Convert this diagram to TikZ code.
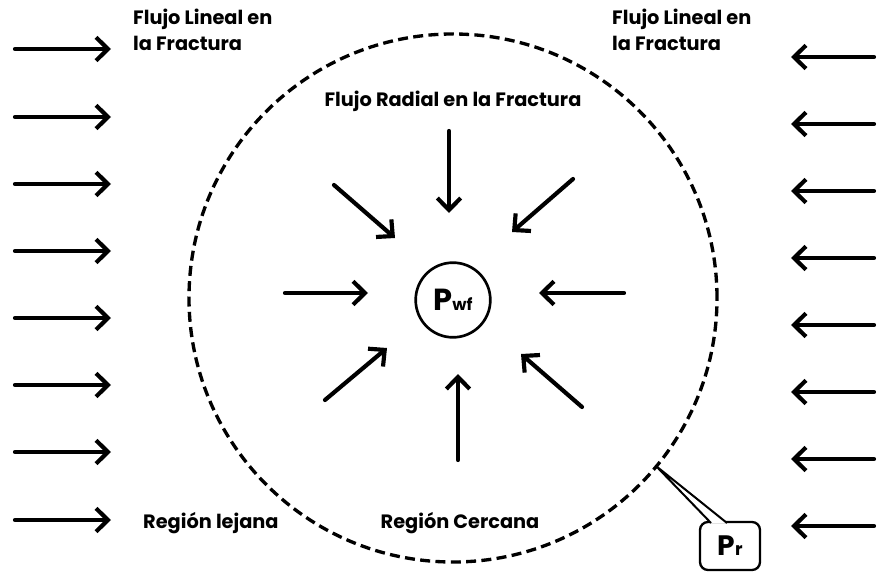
\documentclass[tikz,border=0pt]{standalone}
\usepackage{fontspec}
\setsansfont{Poppins}
\usetikzlibrary{arrows.meta}
\tikzset{
  flowfig/.style={x=0.3mm,y=-0.3mm,>={Straight Barb[length=3.6mm,width=7mm]},
    every node/.style={font=\sffamily\bfseries\fontsize{16.5}{22}\selectfont,align=left}},
  flow/.style={->,line width=1.25mm,line cap=round,line join=round},
  zone/.style={line width=1mm,dash pattern=on 3mm off 1.6mm},
  wellnode/.style={draw,circle,line width=0.8mm,minimum size=22.4mm,inner sep=0pt},
  prnode/.style={draw,rounded corners=2.4mm,line width=0.7mm,minimum width=18mm,
    minimum height=14.4mm,fill=white},
  note/.style={inner sep=0pt},
}

\begin{document}
\begin{tikzpicture}[flowfig]
    \useasboundingbox (0,0) rectangle (878,572);

    % zona de drenaje
    \coordinate (centre) at (453,298);
    \draw[zone] (centre) circle[radius=79.2mm];

    % flujo lineal
    \foreach \y [count=\i] in {49,117,184,251,318,385,452,520} {
      \coordinate (lin\i) at (15,\y);
      \coordinate (lout\i) at (111,\y);
      \draw[flow] (lin\i) -- (lout\i);
    }
    \foreach \y [count=\i] in {57,124,191,258,325,392,459,526} {
      \coordinate (rin\i) at (874,\y);
      \coordinate (rout\i) at (791,\y);
      \draw[flow] (rin\i) -- (rout\i);
    }

    % pozo
    \node[wellnode] (pwf) at (453,300)
      {{\fontsize{26}{26}\selectfont P}{\fontsize{14}{14}\selectfont wf}};

    % flujo radial
    \coordinate (rs1) at (449,131); \coordinate (re1) at (449,213);
    \coordinate (rs2) at (334,185); \coordinate (re2) at (395,238);
    \coordinate (rs3) at (573,179); \coordinate (re3) at (512,232);
    \coordinate (rs4) at (285,293); \coordinate (re4) at (368,293);
    \coordinate (rs5) at (624,293); \coordinate (re5) at (539,293);
    \coordinate (rs6) at (325,400); \coordinate (re6) at (387,348);
    \coordinate (rs7) at (458,460); \coordinate (re7) at (458,374);
    \coordinate (rs8) at (582,407); \coordinate (re8) at (521,354);
    \foreach \i in {1,...,8}
      \draw[flow] (rs\i) -- (re\i);

    % textos
    \node[note,anchor=north west] (linl) at (133,9) {Flujo Lineal en\\la Fractura};
    \node[note,anchor=north west] (linr) at (612,9) {Flujo Lineal en\\la Fractura};
    \node[note] (radial) at (453,101) {Flujo Radial en la Fractura};
    \node[note,anchor=base west] (far) at (143,528) {Región lejana};
    \node[note,anchor=base] (near) at (460,528) {Región Cercana};

    % presion en el limite
    \node[prnode] (pr) at (730,546)
      {{\fontsize{24}{24}\selectfont P}{\fontsize{15}{15}\selectfont r}};
    \coordinate (prtip) at (656,466);
    \coordinate (pra) at (711,523);
    \coordinate (prb) at (727,523);
    \draw[line width=0.6mm,line join=round,fill=white] (pra) -- (prtip) -- (prb);
\end{tikzpicture}
\end{document}
